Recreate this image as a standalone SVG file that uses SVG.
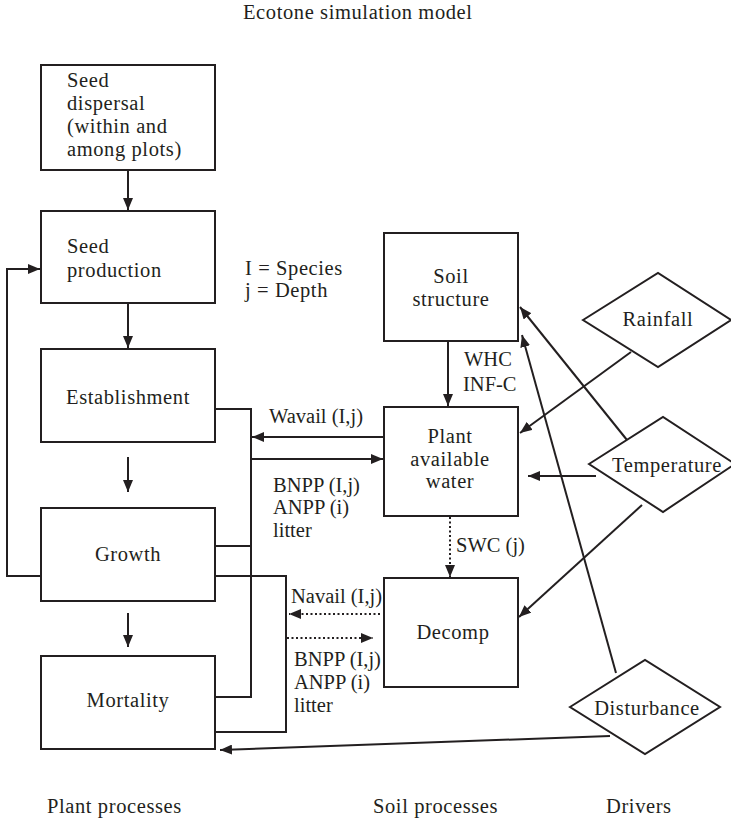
<svg xmlns="http://www.w3.org/2000/svg" width="731" height="820" viewBox="0 0 731 820">
<style>
text{font-family:'Liberation Serif','Times New Roman',serif;font-size:20.5px;letter-spacing:0.6px;fill:#231f20}
.c{text-anchor:middle}
.lb{letter-spacing:0}
.box{fill:#fff;stroke:#231f20;stroke-width:2}
.ln{fill:none;stroke:#231f20;stroke-width:2}
.dot{fill:none;stroke:#231f20;stroke-width:2;stroke-dasharray:2 2.5}
</style>
<defs>
<marker id="ah" markerUnits="userSpaceOnUse" markerWidth="13" markerHeight="10" refX="12" refY="5" orient="auto">
<path d="M0,0 L12,5 L0,10 Z" fill="#231f20"/>
</marker>
</defs>
<rect width="731" height="820" fill="#fff"/>
<text x="243" y="19">Ecotone simulation model</text>

<g id="connectors">
<line class="ln" x1="128" y1="170" x2="128" y2="210" marker-end="url(#ah)"/>
<line class="ln" x1="128" y1="303" x2="128" y2="348" marker-end="url(#ah)"/>
<line class="ln" x1="128" y1="457" x2="128" y2="492" marker-end="url(#ah)"/>
<line class="ln" x1="128" y1="613" x2="128" y2="647" marker-end="url(#ah)"/>
<polyline class="ln" points="41,576 7,576 7,269 40,269" marker-end="url(#ah)"/>
<polyline class="ln" points="215,409 251,409 251,697 215,697"/>
<line class="ln" x1="215" y1="546" x2="251" y2="546"/>
<line class="ln" x1="251" y1="459" x2="383" y2="459" marker-end="url(#ah)"/>
<line class="ln" x1="384" y1="437" x2="252" y2="437" marker-end="url(#ah)"/>
<polyline class="ln" points="215,576 286,576 286,732 215,732"/>
<line class="dot" x1="380" y1="614" x2="289" y2="614" marker-end="url(#ah)"/>
<line class="dot" x1="287" y1="638" x2="373" y2="638" marker-end="url(#ah)"/>
<line class="ln" x1="448" y1="341" x2="448" y2="406" marker-end="url(#ah)"/>
<line class="dot" x1="450" y1="517" x2="450" y2="577" marker-end="url(#ah)"/>
<line class="ln" x1="631" y1="352" x2="520" y2="433" marker-end="url(#ah)"/>
<line class="ln" x1="596" y1="476" x2="528" y2="476" marker-end="url(#ah)"/>
<line class="ln" x1="642" y1="505" x2="519" y2="617" marker-end="url(#ah)"/>
<line class="ln" x1="627" y1="440" x2="520" y2="307" marker-end="url(#ah)"/>
<line class="ln" x1="616" y1="673" x2="522" y2="335" marker-end="url(#ah)"/>
<line class="ln" x1="610" y1="736" x2="220" y2="750" marker-end="url(#ah)"/>
</g>

<g id="seed-dispersal">
<rect class="box" x="41" y="65" width="174" height="105"/>
<text x="67" y="87">Seed</text>
<text x="67" y="110">dispersal</text>
<text x="67" y="133">(within and</text>
<text x="67" y="156">among plots)</text>
</g>
<g id="seed-production">
<rect class="box" x="41" y="211" width="174" height="92"/>
<text x="67" y="253">Seed</text>
<text x="67" y="277">production</text>
</g>
<g id="legend">
<text x="245" y="275">I = Species</text>
<text x="245" y="297">j = Depth</text>
</g>
<g id="establishment">
<rect class="box" x="41" y="349" width="174" height="93"/>
<text class="c" x="128" y="404">Establishment</text>
</g>
<g id="growth">
<rect class="box" x="41" y="508" width="174" height="93"/>
<text class="c" x="128" y="561">Growth</text>
</g>
<g id="mortality">
<rect class="box" x="41" y="656" width="174" height="93"/>
<text class="c" x="128" y="707">Mortality</text>
</g>
<g id="soil-structure">
<rect class="box" x="384" y="233" width="134" height="108"/>
<text class="c" x="451" y="283">Soil</text>
<text class="c" x="451" y="306">structure</text>
</g>
<g id="plant-available-water">
<rect class="box" x="384" y="407" width="134" height="109"/>
<text class="c" x="450" y="443">Plant</text>
<text class="c" x="450" y="466">available</text>
<text class="c" x="450" y="488">water</text>
</g>
<g id="decomp">
<rect class="box" x="384" y="578" width="134" height="109"/>
<text class="c" x="453" y="639">Decomp</text>
</g>
<g id="rainfall">
<polygon class="box" points="583,320 658,273 731,320 658,367"/>
<text class="c" x="658" y="326">Rainfall</text>
</g>
<g id="temperature">
<polygon class="box" points="589,464 663,417 735,464 663,512"/>
<text class="c" x="667" y="472">Temperature</text>
</g>
<g id="disturbance">
<polygon class="box" points="570,707 645,660 720,707 645,754"/>
<text class="c" x="647" y="715">Disturbance</text>
</g>
<g id="labels" class="lb">
<text class="lb" x="269" y="423">Wavail (I,j)</text>
<text class="lb" x="273" y="492">BNPP (I,j)</text>
<text class="lb" x="273" y="514">ANPP (i)</text>
<text class="lb" x="273" y="537">litter</text>
<text class="lb" x="291" y="603">Navail (I,j)</text>
<text class="lb" x="294" y="666">BNPP (I,j)</text>
<text class="lb" x="294" y="689">ANPP (i)</text>
<text class="lb" x="294" y="712">litter</text>
<text class="lb" x="464" y="366">WHC</text>
<text class="lb" x="463" y="391">INF-C</text>
<text class="lb" x="456" y="552">SWC (j)</text>
</g>
<g id="footer">
<text x="47" y="813">Plant processes</text>
<text x="373" y="813">Soil processes</text>
<text x="606" y="813">Drivers</text>
</g>
</svg>
